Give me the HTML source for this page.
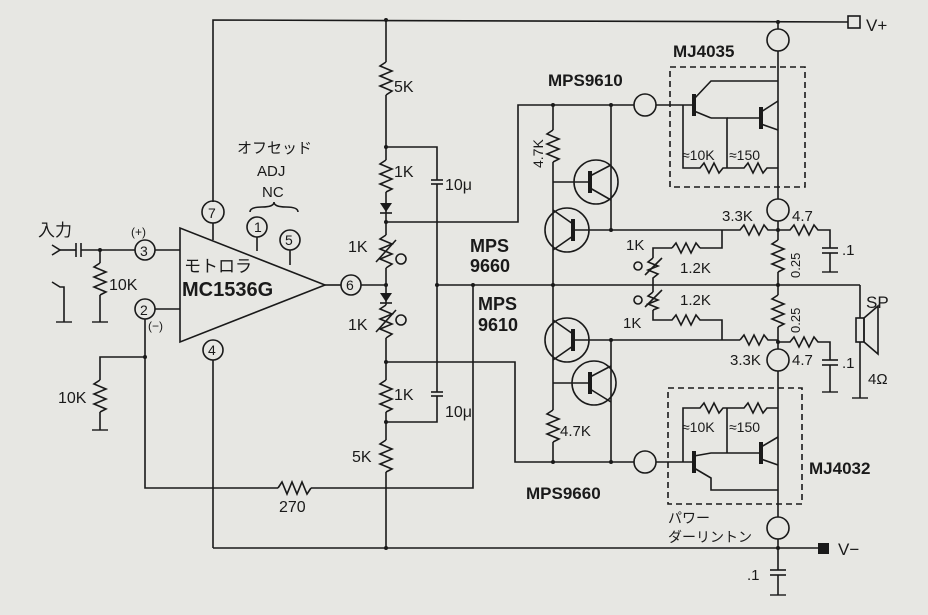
<!DOCTYPE html>
<html><head><meta charset="utf-8"><style>
html,body{margin:0;padding:0;background:#e7e7e3;}
svg{display:block}
text{font-family:"Liberation Sans","Noto Sans CJK JP",sans-serif;fill:#1a1a1a}
.b{font-weight:bold}
</style></head><body>
<svg width="928" height="615" viewBox="0 0 928 615" xmlns="http://www.w3.org/2000/svg">
<rect width="928" height="615" fill="#e7e7e3"/>
<g stroke="#1a1a1a" stroke-width="1.6" fill="none">
<polyline points="213,202 213,20 848,22"/>
<rect x="848" y="16" width="12" height="12"/>
<line x1="213" y1="360" x2="213" y2="548"/>
<line x1="213" y1="548" x2="818" y2="548"/>
<line x1="386" y1="20" x2="386" y2="62"/>
<polyline points="386,62 380,66 392,71 380,76 392,81 380,86 392,91 386,95"/>
<line x1="386" y1="95" x2="386" y2="160"/>
<polyline points="386,160 380,164 392,169 380,174 392,179 380,184 392,189 386,192"/>
<line x1="386" y1="192" x2="386" y2="235"/>
<polyline points="386,235 380,239 392,244 380,249 392,254 380,259 392,264 386,268"/>
<line x1="376" y1="262" x2="396" y2="240"/>
<line x1="386" y1="268" x2="386" y2="305"/>
<polyline points="386,305 380,309 392,314 380,319 392,324 380,329 392,334 386,338"/>
<line x1="376" y1="332" x2="396" y2="310"/>
<line x1="386" y1="338" x2="386" y2="380"/>
<polyline points="386,380 380,384 392,389 380,394 392,399 380,404 392,409 386,412"/>
<line x1="386" y1="412" x2="386" y2="440"/>
<polyline points="386,440 380,444 392,449 380,454 392,459 380,464 392,469 386,472"/>
<line x1="386" y1="472" x2="386" y2="548"/>
<circle cx="401" cy="259" r="5"/><circle cx="401" cy="320" r="5"/>
<polyline points="386,147 437,147 437,180"/>
<line x1="431" y1="180" x2="443" y2="180"/><line x1="431" y1="184" x2="443" y2="184"/>
<line x1="437" y1="184" x2="437" y2="392"/>
<line x1="431" y1="392" x2="443" y2="392"/><line x1="431" y1="396" x2="443" y2="396"/>
<polyline points="437,396 437,422 386,422"/>
<polyline points="386,222 518,222 518,105 634,105"/>
<polyline points="386,362 515,362 515,462 634,462"/>
<line x1="437" y1="285" x2="860" y2="285"/>
<polyline points="860,285 860,318"/>
<polyline points="860,342 860,398"/>
<rect x="856" y="318" width="8" height="24"/>
<polygon points="864,318 878,306 878,354 864,342"/>
<polygon points="180,228 180,342 325,285"/>
<line x1="325" y1="285" x2="341" y2="285"/><line x1="361" y1="285" x2="386" y2="285"/>
<circle cx="213" cy="212" r="11"/><line x1="213" y1="223" x2="213" y2="240"/>
<circle cx="257" cy="227" r="10"/><line x1="257" y1="237" x2="257" y2="251"/>
<circle cx="290" cy="240" r="10"/><line x1="290" y1="250" x2="290" y2="265"/>
<circle cx="213" cy="350" r="10"/>
<circle cx="145" cy="250" r="10"/><line x1="155" y1="250" x2="180" y2="250"/>
<circle cx="145" cy="309" r="10"/><line x1="155" y1="309" x2="180" y2="309"/>
<circle cx="351" cy="285" r="10"/>
<path d="M250,212 q0,-5 12,-5 q12,0 12,-5 q0,5 12,5 q12,0 12,5"/>
<polyline points="52,245 60,250 52,255"/><line x1="60" y1="250" x2="76" y2="250"/>
<line x1="76" y1="243" x2="76" y2="257"/><line x1="81" y1="243" x2="81" y2="257"/>
<line x1="81" y1="250" x2="135" y2="250"/>
<line x1="100" y1="250" x2="100" y2="263"/>
<polyline points="100,263 94,267 106,272 94,277 106,282 94,287 106,292 100,295"/>
<line x1="100" y1="295" x2="100" y2="322"/>
<polyline points="52,282 60,287 64,287 64,322"/>
<polyline points="145,319 145,488 278,488"/>
<polyline points="278,488 282,482 287,494 292,482 297,494 302,482 307,494 311,488"/>
<polyline points="311,488 473,488 473,285"/>
<polyline points="145,357 100,357 100,380"/>
<polyline points="100,380 94,384 106,389 94,394 106,399 94,404 106,409 100,412"/>
<line x1="100" y1="412" x2="100" y2="430"/>
<line x1="553" y1="105" x2="553" y2="130"/>
<polyline points="553,130 547,134 559,139 547,144 559,149 547,154 559,159 553,162"/>
<line x1="553" y1="162" x2="553" y2="285"/>
<line x1="553" y1="182" x2="590" y2="182"/>
<circle cx="596" cy="182" r="22"/>
<line x1="590" y1="171" x2="590" y2="193" stroke-width="4"/>
<line x1="590" y1="176" x2="611" y2="165"/><line x1="590" y1="188" x2="611" y2="200"/>
<polyline points="611,105 611,230"/>
<circle cx="567" cy="230" r="22"/>
<line x1="573" y1="219" x2="573" y2="241" stroke-width="4"/>
<line x1="573" y1="224" x2="553" y2="210"/><line x1="573" y1="236" x2="553" y2="250"/>
<line x1="573" y1="230" x2="722" y2="230"/>
<polyline points="722,230 722,248 700,248"/>
<polyline points="700,248 696,243 691,253 686,243 681,253 676,243 672,248"/>
<polyline points="672,248 653,248 653,258"/>
<polyline points="722,230 740,230 744,225 749,235 754,225 759,235 764,225 768,230 778,230"/>
<circle cx="567" cy="340" r="22"/>
<line x1="573" y1="329" x2="573" y2="351" stroke-width="4"/>
<line x1="573" y1="334" x2="553" y2="320"/><line x1="573" y1="346" x2="553" y2="360"/>
<circle cx="594" cy="383" r="22"/>
<line x1="590" y1="372" x2="590" y2="394" stroke-width="4"/>
<line x1="590" y1="377" x2="611" y2="366"/><line x1="590" y1="389" x2="611" y2="402"/>
<line x1="553" y1="285" x2="553" y2="410"/>
<line x1="553" y1="383" x2="590" y2="383"/>
<polyline points="553,410 547,414 559,419 547,424 559,429 547,434 559,439 553,442"/>
<line x1="553" y1="442" x2="553" y2="462"/>
<polyline points="611,340 611,462"/>
<line x1="573" y1="340" x2="740" y2="340"/>
<polyline points="722,340 722,320 700,320 696,315 691,325 686,315 681,325 676,315 672,320 653,320 653,310"/>
<polyline points="740,340 744,335 749,345 754,335 759,345 764,335 768,340 778,340"/>
<polyline points="653,258 648,262 658,266 648,270 658,274 653,278 653,292"/>
<line x1="645" y1="275" x2="662" y2="258"/>
<polyline points="653,292 648,296 658,300 648,304 658,308 653,310"/>
<line x1="645" y1="307" x2="662" y2="290"/>
<circle cx="638" cy="266" r="4"/><circle cx="638" cy="300" r="4"/>
<line x1="778" y1="22" x2="778" y2="29"/><circle cx="778" cy="40" r="11"/>
<line x1="778" y1="51" x2="778" y2="199"/><circle cx="778" cy="210" r="11"/>
<line x1="778" y1="221" x2="778" y2="240"/>
<polyline points="778,240 772,244 784,249 772,254 784,259 772,264 784,269 778,272"/>
<line x1="778" y1="272" x2="778" y2="295"/>
<polyline points="778,295 772,299 784,304 772,309 784,314 772,319 784,324 778,327"/>
<line x1="778" y1="327" x2="778" y2="349"/><circle cx="778" cy="360" r="11"/>
<line x1="778" y1="371" x2="778" y2="517"/><circle cx="778" cy="528" r="11"/>
<line x1="778" y1="539" x2="778" y2="570"/>
<line x1="770" y1="570" x2="786" y2="570"/><line x1="770" y1="575" x2="786" y2="575"/>
<line x1="778" y1="575" x2="778" y2="595"/>
<polyline points="778,230 790,230 794,225 799,235 804,225 809,235 814,225 818,230 830,230 830,248"/>
<line x1="822" y1="248" x2="838" y2="248"/><line x1="822" y1="253" x2="838" y2="253"/>
<line x1="830" y1="253" x2="830" y2="272"/>
<polyline points="778,342 790,342 794,337 799,347 804,337 809,347 814,337 818,342 830,342 830,360"/>
<line x1="822" y1="360" x2="838" y2="360"/><line x1="822" y1="365" x2="838" y2="365"/>
<line x1="830" y1="365" x2="830" y2="392"/>
<rect x="670" y="67" width="135" height="120" stroke-dasharray="6,4"/>
<rect x="668" y="388" width="134" height="116" stroke-dasharray="6,4"/>
<line x1="656" y1="105" x2="694" y2="105"/>
<line x1="694" y1="94" x2="694" y2="116" stroke-width="4"/>
<polyline points="694,99 711,81 778,81"/><line x1="694" y1="111" x2="711" y2="118"/>
<polyline points="711,118 727,118 727,168"/>
<line x1="727" y1="118" x2="761" y2="118"/>
<line x1="761" y1="107" x2="761" y2="129" stroke-width="4"/>
<line x1="761" y1="112" x2="778" y2="101"/><line x1="761" y1="124" x2="778" y2="130"/>
<polyline points="683,105 683,168 700,168 704,163 709,173 714,163 719,173 723,168 744,168 748,163 753,173 758,163 763,173 767,168 778,168"/>
<line x1="656" y1="462" x2="694" y2="462"/>
<line x1="694" y1="451" x2="694" y2="473" stroke-width="4"/>
<polyline points="694,456 711,453 761,453"/><polyline points="694,468 711,478 711,490 778,490"/>
<line x1="727" y1="453" x2="727" y2="408"/>
<line x1="761" y1="442" x2="761" y2="464" stroke-width="4"/>
<line x1="761" y1="447" x2="778" y2="437"/><line x1="761" y1="459" x2="778" y2="465"/>
<polyline points="683,462 683,408 700,408 704,403 709,413 714,403 719,413 723,408 744,408 748,403 753,413 758,403 763,413 767,408 778,408"/>
<circle cx="645" cy="105" r="11"/><circle cx="645" cy="462" r="11"/>
</g>
<rect x="818" y="543" width="11" height="11" fill="#1a1a1a"/>
<g stroke="#1a1a1a" stroke-width="1.4">
<line x1="56" y1="322" x2="72" y2="322"/><line x1="92" y1="322" x2="108" y2="322"/>
<line x1="92" y1="430" x2="108" y2="430"/><line x1="822" y1="272" x2="838" y2="272"/>
<line x1="822" y1="392" x2="838" y2="392"/><line x1="852" y1="398" x2="868" y2="398"/>
<line x1="770" y1="595" x2="786" y2="595"/>
</g>
<g fill="#1a1a1a">
<circle cx="386" cy="20" r="2"/><circle cx="386" cy="147" r="2"/><circle cx="386" cy="222" r="2"/><circle cx="386" cy="285" r="2"/><circle cx="386" cy="362" r="2"/><circle cx="386" cy="422" r="2"/><circle cx="386" cy="548" r="2"/><circle cx="437" cy="285" r="2"/><circle cx="473" cy="285" r="2"/><circle cx="778" cy="22" r="2"/><circle cx="778" cy="230" r="2"/><circle cx="778" cy="285" r="2"/><circle cx="778" cy="342" r="2"/><circle cx="778" cy="548" r="2"/><circle cx="553" cy="105" r="2"/><circle cx="611" cy="105" r="2"/><circle cx="553" cy="285" r="2"/><circle cx="611" cy="230" r="2"/><circle cx="611" cy="340" r="2"/><circle cx="553" cy="462" r="2"/><circle cx="611" cy="462" r="2"/><circle cx="100" cy="250" r="2"/><circle cx="145" cy="357" r="2"/>
<polygon points="380,203 392,203 386,212"/><polygon points="380,293 392,293 386,302"/>
</g>
<g stroke="#1a1a1a" stroke-width="1.6"><line x1="380" y1="213" x2="392" y2="213"/><line x1="380" y1="303" x2="392" y2="303"/></g>
<text x="394" y="92" font-size="16">5K</text>
<text x="394" y="177" font-size="16">1K</text>
<text x="348" y="252" font-size="16">1K</text>
<text x="348" y="330" font-size="16">1K</text>
<text x="394" y="400" font-size="16">1K</text>
<text x="352" y="462" font-size="16">5K</text>
<text x="445" y="190" font-size="16">10μ</text>
<text x="445" y="417" font-size="16">10μ</text>
<text x="237" y="153" font-size="15">オフセッド</text>
<text x="257" y="176" font-size="15">ADJ</text>
<text x="262" y="197" font-size="15">NC</text>
<text x="38" y="236" font-size="17">入力</text>
<text x="109" y="290" font-size="16">10K</text>
<text x="58" y="403" font-size="16">10K</text>
<text x="131" y="236" font-size="12">(+)</text>
<text x="148" y="330" font-size="12">(−)</text>
<text x="184" y="272" font-size="17">モトロラ</text>
<text x="182" y="296" font-size="20" class="b">MC1536G</text>
<text x="208" y="218" font-size="14">7</text><text x="254" y="232" font-size="14">1</text><text x="285" y="245" font-size="14">5</text>
<text x="140" y="256" font-size="14">3</text><text x="140" y="315" font-size="14">2</text><text x="346" y="290" font-size="14">6</text><text x="208" y="355" font-size="14">4</text>
<text x="279" y="512" font-size="16">270</text>
<text x="548" y="86" font-size="17" class="b">MPS9610</text>
<text x="673" y="57" font-size="17" class="b">MJ4035</text>
<text x="866" y="31" font-size="17">V+</text>
<text x="838" y="555" font-size="17">V−</text>
<text x="470" y="252" font-size="18" class="b">MPS</text><text x="470" y="272" font-size="18" class="b">9660</text>
<text x="478" y="310" font-size="18" class="b">MPS</text><text x="478" y="331" font-size="18" class="b">9610</text>
<text x="526" y="499" font-size="17" class="b">MPS9660</text>
<text x="809" y="474" font-size="17" class="b">MJ4032</text>
<text x="543" y="168" font-size="14" transform="rotate(-90 543 168)">4.7K</text>
<text x="560" y="436" font-size="15">4.7K</text>
<text x="682" y="160" font-size="14">≈10K</text><text x="729" y="160" font-size="14">≈150</text>
<text x="682" y="432" font-size="14">≈10K</text><text x="729" y="432" font-size="14">≈150</text>
<text x="722" y="221" font-size="15">3.3K</text><text x="792" y="221" font-size="15">4.7</text>
<text x="730" y="365" font-size="15">3.3K</text><text x="792" y="365" font-size="15">4.7</text>
<text x="626" y="250" font-size="15">1K</text><text x="623" y="328" font-size="15">1K</text>
<text x="680" y="273" font-size="15">1.2K</text><text x="680" y="305" font-size="15">1.2K</text>
<text x="842" y="255" font-size="15">.1</text><text x="842" y="368" font-size="15">.1</text>
<text x="747" y="580" font-size="15">.1</text>
<text x="800" y="278" font-size="13" transform="rotate(-90 800 278)">0.25</text>
<text x="800" y="333" font-size="13" transform="rotate(-90 800 333)">0.25</text>
<text x="866" y="308" font-size="17">SP</text>
<text x="868" y="384" font-size="15">4Ω</text>
<text x="668" y="523" font-size="14">パワー</text>
<text x="668" y="542" font-size="14">ダーリントン</text>
</svg>
</body></html>
